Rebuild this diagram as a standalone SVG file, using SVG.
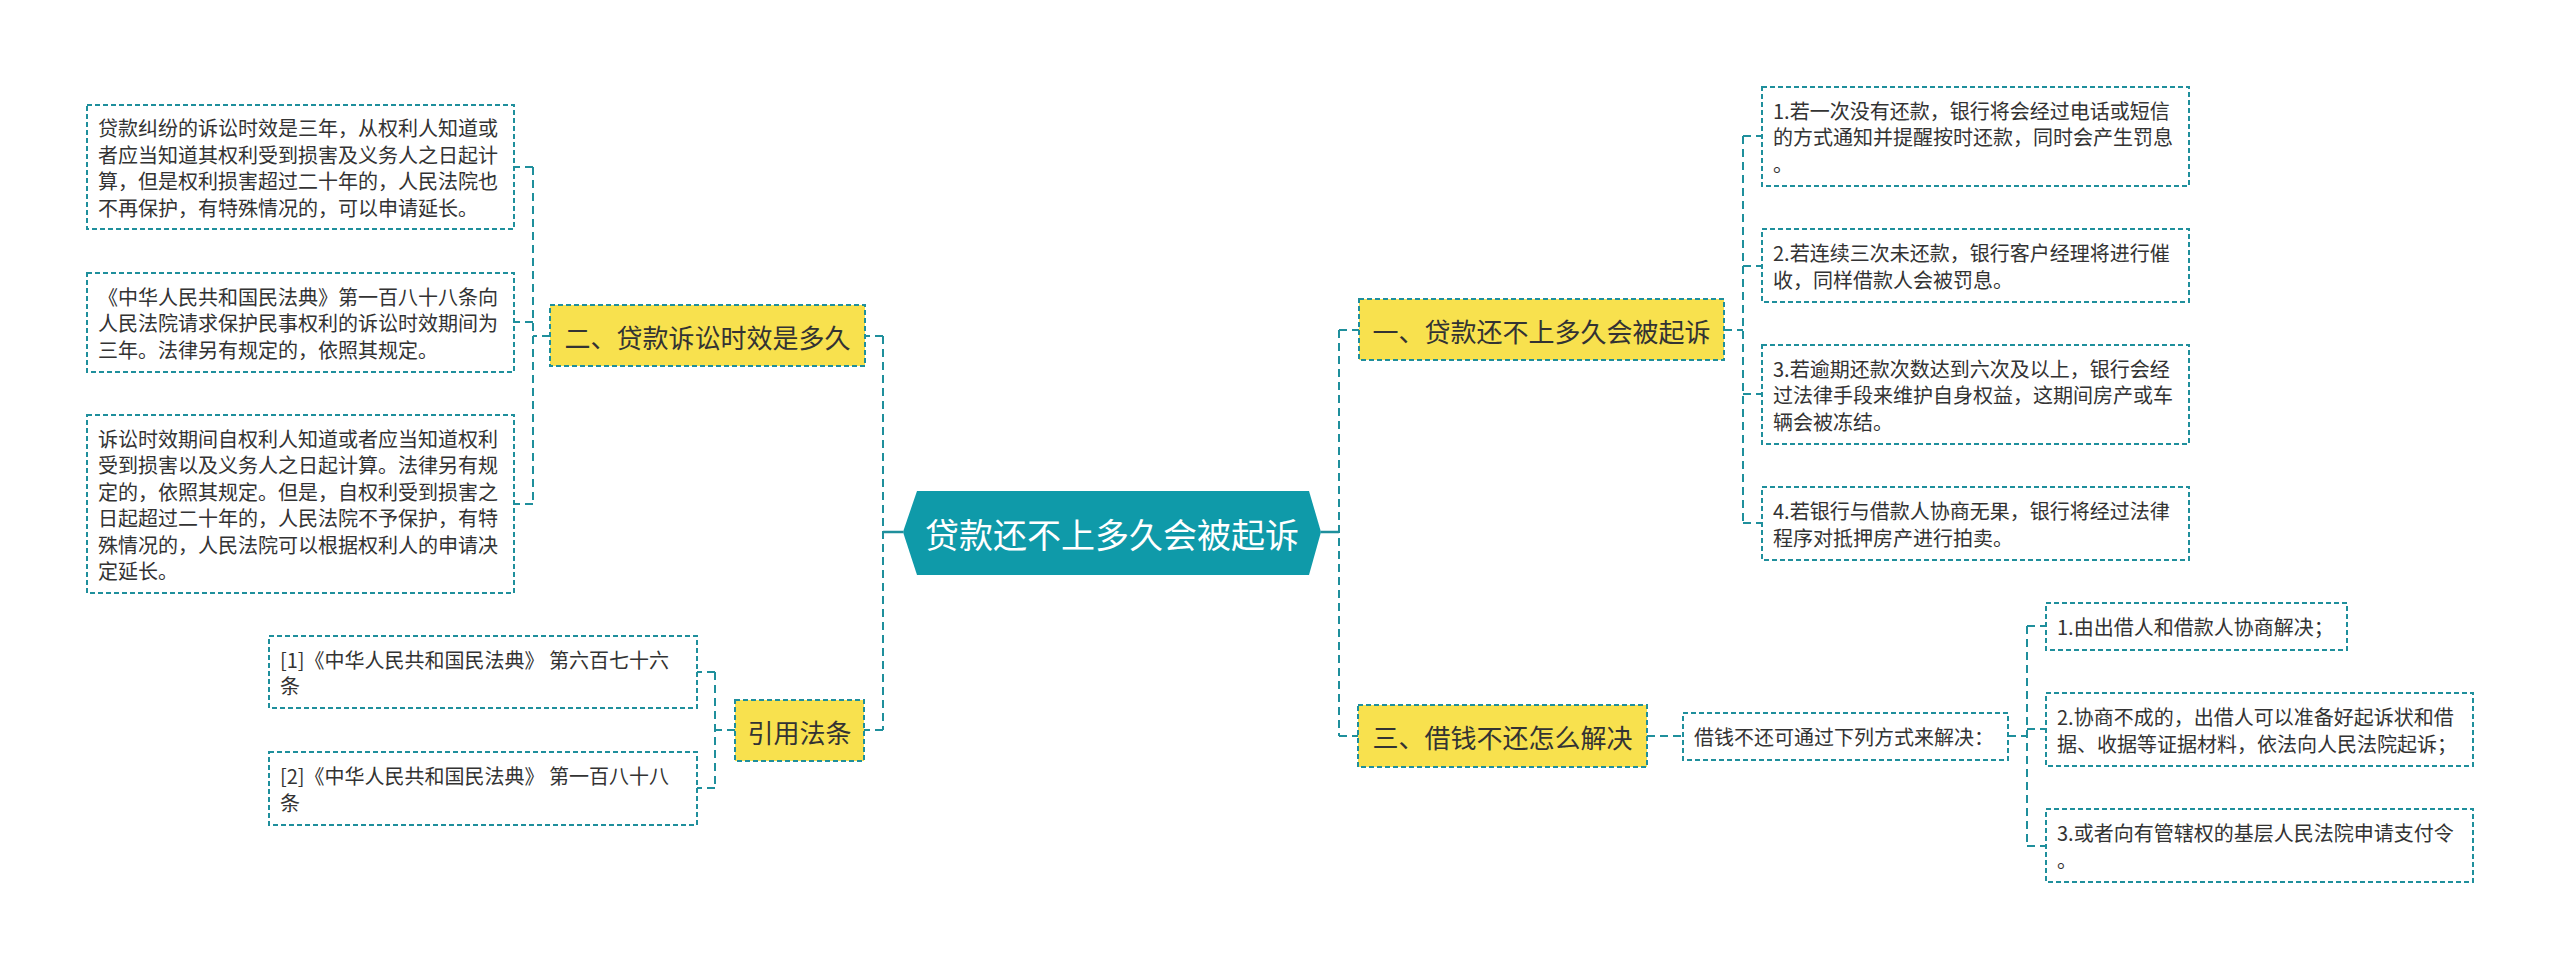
<svg xmlns="http://www.w3.org/2000/svg" width="2560" height="969" viewBox="0 0 2560 969">
<style>
.leaf{fill:#ffffff;stroke:#1f8f9c;stroke-width:2;stroke-dasharray:5 3}
.main{fill:#f8e14e;stroke:#1f8f9c;stroke-width:2;stroke-dasharray:5 3}
.t{font-family:"Noto Sans CJK SC","Noto Sans",sans-serif;font-size:20px;fill:#333333;dominant-baseline:central}
.tm{font-family:"Noto Sans CJK SC","Noto Sans",sans-serif;font-size:26px;fill:#333333;dominant-baseline:central;text-anchor:middle}
.tc{font-family:"Noto Sans CJK SC","Noto Sans",sans-serif;font-size:34px;fill:#ffffff;dominant-baseline:central;text-anchor:middle}
.c{fill:none;stroke:#1f8f9c;stroke-width:2;stroke-dasharray:8 5}
.cs{fill:none;stroke:#1f8f9c;stroke-width:2.5}
</style>
<rect width="2560" height="969" fill="#ffffff"/>
<g id="connectors">
<path class="cs" d="M903,532 H883"/>
<path class="cs" d="M1321,532 H1339"/>
<path class="c" d="M883,336 V730"/>
<path class="c" d="M883,336 H865"/>
<path class="c" d="M883,730 H864"/>
<path class="c" d="M550,336 H533"/>
<path class="c" d="M533,167 V504"/>
<path class="c" d="M533,167 H514"/>
<path class="c" d="M533,322 H514"/>
<path class="c" d="M533,504 H514"/>
<path class="c" d="M735,730 H715"/>
<path class="c" d="M715,672 V788"/>
<path class="c" d="M715,672 H697"/>
<path class="c" d="M715,788 H697"/>
<path class="c" d="M1339,330 V736"/>
<path class="c" d="M1339,330 H1359"/>
<path class="c" d="M1339,736 H1358"/>
<path class="c" d="M1724,330 H1743"/>
<path class="c" d="M1743,136 V523"/>
<path class="c" d="M1743,136 H1762"/>
<path class="c" d="M1743,266 H1762"/>
<path class="c" d="M1743,394 H1762"/>
<path class="c" d="M1743,523 H1762"/>
<path class="c" d="M1647,736 H1683"/>
<path class="c" d="M2008,736 H2027"/>
<path class="c" d="M2027,626 V846"/>
<path class="c" d="M2027,626 H2046"/>
<path class="c" d="M2027,729 H2046"/>
<path class="c" d="M2027,846 H2046"/>
</g>
<g id="center">
<polygon points="903,532 917,491 1309,491 1321,532 1309,575 917,575" fill="#0f9aa9"/>
<text class="tc" x="1112" y="533">贷款还不上多久会被起诉</text>
</g>
<g id="n-two">
<rect class="main" x="550" y="305" width="315" height="61"/>
<text class="tm" x="707.5" y="336">二、贷款诉讼时效是多久</text>
</g>
<g id="n-two-1">
<rect class="leaf" x="87" y="105" width="427" height="124"/>
<text class="t" x="98" y="127">贷款纠纷的诉讼时效是三年，从权利人知道或</text>
<text class="t" x="98" y="154">者应当知道其权利受到损害及义务人之日起计</text>
<text class="t" x="98" y="180">算，但是权利损害超过二十年的，人民法院也</text>
<text class="t" x="98" y="207">不再保护，有特殊情况的，可以申请延长。</text>
</g>
<g id="n-two-2">
<rect class="leaf" x="87" y="273" width="427" height="99"/>
<text class="t" x="98" y="296">《中华人民共和国民法典》第一百八十八条向</text>
<text class="t" x="98" y="322.5">人民法院请求保护民事权利的诉讼时效期间为</text>
<text class="t" x="98" y="349">三年。法律另有规定的，依照其规定。</text>
</g>
<g id="n-two-3">
<rect class="leaf" x="87" y="415" width="427" height="178"/>
<text class="t" x="98" y="438">诉讼时效期间自权利人知道或者应当知道权利</text>
<text class="t" x="98" y="464.5">受到损害以及义务人之日起计算。法律另有规</text>
<text class="t" x="98" y="491">定的，依照其规定。但是，自权利受到损害之</text>
<text class="t" x="98" y="517.5">日起超过二十年的，人民法院不予保护，有特</text>
<text class="t" x="98" y="544">殊情况的，人民法院可以根据权利人的申请决</text>
<text class="t" x="98" y="570.5">定延长。</text>
</g>
<g id="n-ref">
<rect class="main" x="735" y="700" width="129" height="61"/>
<text class="tm" x="799.5" y="731">引用法条</text>
</g>
<g id="n-ref-1">
<rect class="leaf" x="269" y="636" width="428" height="72"/>
<text class="t" x="280" y="659">[1]《中华人民共和国民法典》 第六百七十六</text>
<text class="t" x="280" y="685">条</text>
</g>
<g id="n-ref-2">
<rect class="leaf" x="269" y="752" width="428" height="73"/>
<text class="t" x="280" y="775">[2]《中华人民共和国民法典》 第一百八十八</text>
<text class="t" x="280" y="802">条</text>
</g>
<g id="n-one">
<rect class="main" x="1359" y="299" width="365" height="61"/>
<text class="tm" x="1541.5" y="330">一、贷款还不上多久会被起诉</text>
</g>
<g id="n-one-1">
<rect class="leaf" x="1762" y="87" width="427" height="99"/>
<text class="t" x="1773" y="110">1.若一次没有还款，银行将会经过电话或短信</text>
<text class="t" x="1773" y="136.5">的方式通知并提醒按时还款，同时会产生罚息</text>
<text class="t" x="1773" y="163">。</text>
</g>
<g id="n-one-2">
<rect class="leaf" x="1762" y="229" width="427" height="73"/>
<text class="t" x="1773" y="252">2.若连续三次未还款，银行客户经理将进行催</text>
<text class="t" x="1773" y="279">收，同样借款人会被罚息。</text>
</g>
<g id="n-one-3">
<rect class="leaf" x="1762" y="345" width="427" height="99"/>
<text class="t" x="1773" y="368">3.若逾期还款次数达到六次及以上，银行会经</text>
<text class="t" x="1773" y="394.5">过法律手段来维护自身权益，这期间房产或车</text>
<text class="t" x="1773" y="421">辆会被冻结。</text>
</g>
<g id="n-one-4">
<rect class="leaf" x="1762" y="487" width="427" height="73"/>
<text class="t" x="1773" y="510">4.若银行与借款人协商无果，银行将经过法律</text>
<text class="t" x="1773" y="537">程序对抵押房产进行拍卖。</text>
</g>
<g id="n-three">
<rect class="main" x="1358" y="705" width="289" height="62"/>
<text class="tm" x="1502.5" y="736">三、借钱不还怎么解决</text>
</g>
<g id="n-three-mid">
<rect class="leaf" x="1683" y="713" width="325" height="47"/>
<text class="t" x="1694" y="736.5">借钱不还可通过下列方式来解决：</text>
</g>
<g id="n-three-1">
<rect class="leaf" x="2046" y="603" width="301" height="47"/>
<text class="t" x="2057" y="626.5">1.由出借人和借款人协商解决；</text>
</g>
<g id="n-three-2">
<rect class="leaf" x="2046" y="693" width="427" height="73"/>
<text class="t" x="2057" y="716">2.协商不成的，出借人可以准备好起诉状和借</text>
<text class="t" x="2057" y="743">据、收据等证据材料，依法向人民法院起诉；</text>
</g>
<g id="n-three-3">
<rect class="leaf" x="2046" y="809" width="427" height="73"/>
<text class="t" x="2057" y="832">3.或者向有管辖权的基层人民法院申请支付令</text>
<text class="t" x="2057" y="859">。</text>
</g>
</svg>
